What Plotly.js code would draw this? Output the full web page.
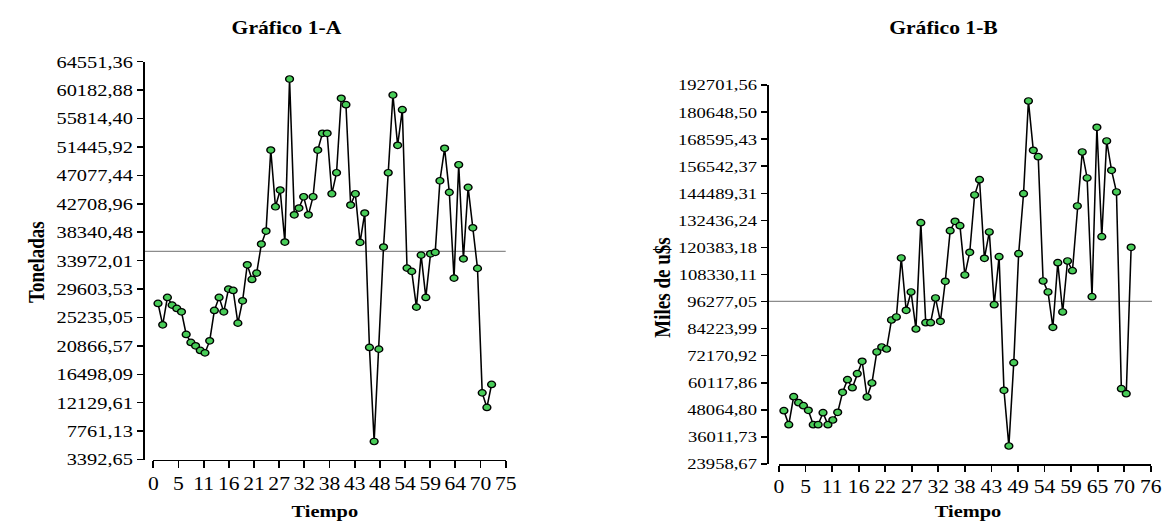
<!DOCTYPE html>
<html><head><meta charset="utf-8">
<script src="https://cdn.plot.ly/plotly-3.0.1.min.js"></script>
<style>html,body{margin:0;padding:0;overflow:hidden;background:#fff}
#chart{transform-origin:0 0;}</style>
</head><body><div id="chart"></div><script>
// ---- data ----
const tiempo = [1,2,3,4,5,6,7,8,9,10,11,12,13,14,15,16,17,18,19,20,21,22,23,24,25,26,27,28,29,30,31,32,33,34,35,36,37,38,39,40,41,42,43,44,45,46,47,48,49,50,51,52,53,54,55,56,57,58,59,60,61,62,63,64,65,66,67,68,69,70,71,72];
const toneladas = [27389,24097,28312,27127,26620,26097,22620,21390,20867,20159,19790,21636,26312,28312,26097,29588,29388,24358,27789,33326,31080,32050,36510,38510,50969,42248,44817,36818,61890,41017,42048,43786,41017,43786,50969,53538,53538,44248,47478,58922,57938,42509,44248,36772,41279,20621,6162,20359,36049,47478,59430,51692,57169,32819,32311,26820,34818,28312,35018,35234,46247,51231,44463,31281,48708,34249,45232,39018,32773,13637,11392,14930];
const milesUSD = [47690,41457,53924,51252,49917,47868,41457,41457,46800,41457,43550,46978,55883,61494,57932,64165,69686,53791,60024,73827,76053,75162,88075,89410,115680,92394,100542,84067,131398,86872,86872,97870,87496,105306,127836,132021,130062,108110,118218,143730,150543,115547,127257,94887,116259,56774,31973,69063,117594,144310,185585,163634,160784,105440,100542,84825,113588,91637,114345,110026,138834,162877,151301,98449,173875,125164,167775,154729,145067,57486,55260,120445];
const mediaA = 35400;
const mediaB = 96350;

const yTickValsA = [3392.65,7761.13,12129.61,16498.09,20866.57,25235.05,29603.53,33972.01,38340.48,42708.96,47077.44,51445.92,55814.40,60182.88,64551.36];
const yTickTextA = ["3392,65","7761,13","12129,61","16498,09","20866,57","25235,05","29603,53","33972,01","38340,48","42708,96","47077,44","51445,92","55814,40","60182,88","64551,36"];
const xTickValsA = [0,5.357,10.714,16.071,21.429,26.786,32.143,37.5,42.857,48.214,53.571,58.929,64.286,69.643,75];
const xTickTextA = ["0","5","11","16","21","27","32","38","43","48","54","59","64","70","75"];

const yTickValsB = [23958.67,36011.73,48064.80,60117.86,72170.92,84223.99,96277.05,108330.11,120383.18,132436.24,144489.31,156542.37,168595.43,180648.50,192701.56];
const yTickTextB = ["23958,67","36011,73","48064,80","60117,86","72170,92","84223,99","96277,05","108330,11","120383,18","132436,24","144489,31","156542,37","168595,43","180648,50","192701,56"];
const xTickValsB = [0,5.429,10.857,16.286,21.714,27.143,32.571,38,43.429,48.857,54.286,59.714,65.143,70.571,76];
const xTickTextB = ["0","5","11","16","22","27","32","38","43","49","54","59","65","70","76"];

// ---- layout helpers ----
const SX = 1.2, W = 1164, H = 522;
const px = x => x / W;
const py = y => 1 - y / H;
const FONT = '"Liberation Serif","Times New Roman",serif';

const markerStyle = {size: 6.5, color: 'rgb(72,204,88)', line: {color: '#000', width: 1.2}};
const lineStyle = {color: '#000', width: 1.3};

const traces = [
  {x: tiempo, y: toneladas, xaxis: 'x', yaxis: 'y', mode: 'lines+markers',
   line: lineStyle, marker: markerStyle, cliponaxis: false, hoverinfo: 'x+y'},
  {x: tiempo, y: milesUSD, xaxis: 'x2', yaxis: 'y2', mode: 'lines+markers',
   line: lineStyle, marker: markerStyle, cliponaxis: false, hoverinfo: 'x+y'}
];

const axisCommon = {showline: true, linecolor: '#000', linewidth: 1.5, ticks: 'outside',
  tickcolor: '#000', tickwidth: 1.5, showgrid: false, zeroline: false, tickmode: 'array',
  fixedrange: true};
const xFont = {family: FONT, size: 18, color: '#000'};

const layout = {
  width: Math.round(W / SX), height: H,
  margin: {l: 0, r: 0, t: 0, b: 0},
  paper_bgcolor: '#fff', plot_bgcolor: '#fff',
  showlegend: false,
  font: {family: FONT, color: '#000'},
  xaxis: Object.assign({}, axisCommon, {domain: [px(153.3), px(505.7)], range: [0, 75],
    tickvals: xTickValsA, ticktext: xTickTextA, ticklen: 7, anchor: 'y', tickfont: xFont}),
  yaxis: Object.assign({}, axisCommon, {domain: [py(459.5), py(61.7)], range: [3392.65, 64551.36],
    tickvals: yTickValsA, ticktext: yTickTextA, ticklen: 5, anchor: 'free', position: px(143),
    tickfont: {family: FONT, size: 17, color: '#000'}}),
  xaxis2: Object.assign({}, axisCommon, {domain: [px(779), px(1150.7)], range: [0, 76],
    tickvals: xTickValsB, ticktext: xTickTextB, ticklen: 6, anchor: 'y2', tickfont: xFont}),
  yaxis2: Object.assign({}, axisCommon, {domain: [py(464), py(85)], range: [23958.67, 192701.56],
    tickvals: yTickValsB, ticktext: yTickTextB, ticklen: 5, anchor: 'free', position: px(766.7),
    tickfont: {family: FONT, size: 15.5, color: '#000'}}),
  shapes: [
    {type: 'line', xref: 'paper', yref: 'y', x0: px(143), x1: px(505.7), y0: mediaA, y1: mediaA,
     line: {color: '#8c8c8c', width: 1.3}, layer: 'below'},
    {type: 'line', xref: 'paper', yref: 'y2', x0: px(766.7), x1: px(1152), y0: mediaB, y1: mediaB,
     line: {color: '#8c8c8c', width: 1.3}, layer: 'below'}
  ],
  annotations: [
    {text: '<b>Gráfico 1-A</b>', xref: 'paper', yref: 'paper', x: px(286), y: py(28),
     xanchor: 'center', yanchor: 'middle', showarrow: false, font: {family: FONT, size: 18}},
    {text: '<b>Gráfico 1-B</b>', xref: 'paper', yref: 'paper', x: px(943), y: py(28),
     xanchor: 'center', yanchor: 'middle', showarrow: false, font: {family: FONT, size: 18}},
    {text: '<b>Tiempo</b>', xref: 'paper', yref: 'paper', x: px(325), y: py(511),
     xanchor: 'center', yanchor: 'middle', showarrow: false, font: {family: FONT, size: 17}},
    {text: '<b>Tiempo</b>', xref: 'paper', yref: 'paper', x: px(968), y: py(511),
     xanchor: 'center', yanchor: 'middle', showarrow: false, font: {family: FONT, size: 17}},
    {text: '<b>Toneladas</b>', xref: 'paper', yref: 'paper', x: px(36), y: py(262), textangle: -90,
     xanchor: 'center', yanchor: 'middle', showarrow: false, font: {family: FONT, size: 19}},
    {text: '<b>Miles de u$s</b>', xref: 'paper', yref: 'paper', x: px(662), y: py(288), textangle: -90,
     xanchor: 'center', yanchor: 'middle', showarrow: false, font: {family: FONT, size: 19}}
  ]
};

const el = document.getElementById('chart');
el.style.transform = 'scaleX(' + SX + ')';
Plotly.newPlot(el, traces, layout, {displayModeBar: false, staticPlot: true});
</script></body></html>
